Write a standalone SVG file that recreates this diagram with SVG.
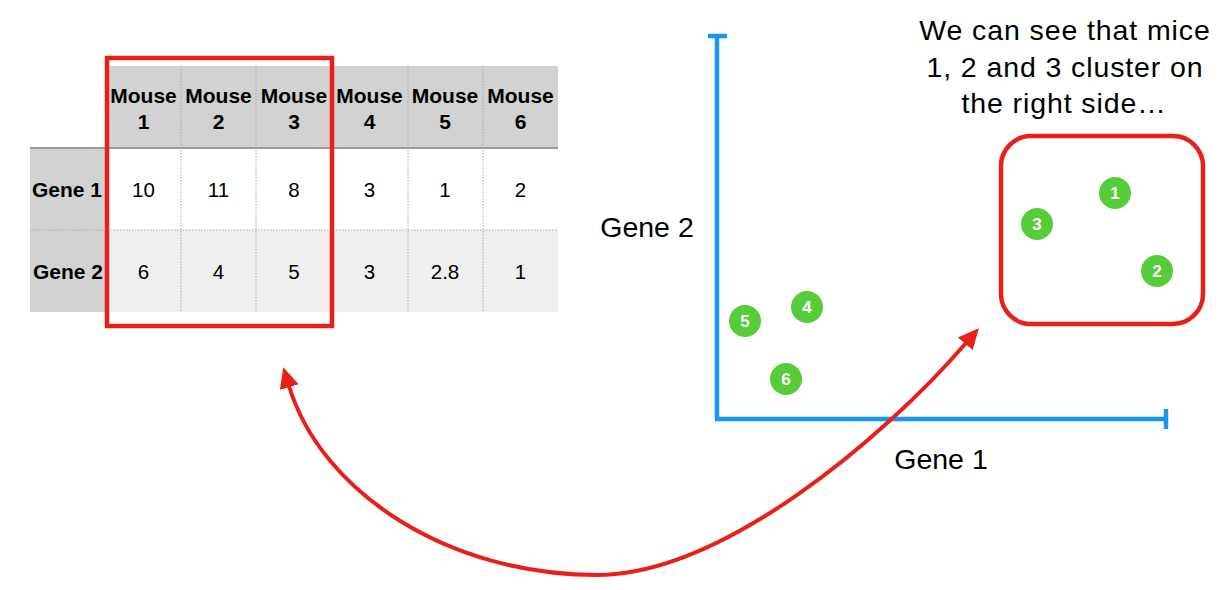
<svg xmlns="http://www.w3.org/2000/svg" width="1226" height="590" viewBox="0 0 1226 590">
<style>
.hd{font-family:"Liberation Sans",Arial,sans-serif;font-weight:bold;font-size:21px;fill:#000;text-anchor:middle}
.num{font-family:"Liberation Sans",Arial,sans-serif;font-size:20.5px;fill:#000;text-anchor:middle}
.lbl{font-family:"Liberation Sans",Arial,sans-serif;font-size:28.5px;fill:#000;text-anchor:middle}
.cap{font-family:"Liberation Sans",Arial,sans-serif;font-size:28.5px;fill:#000;text-anchor:middle;letter-spacing:0.9px}
.dot{stroke:#a8a8a8;stroke-width:1;stroke-dasharray:1.5 1.5;fill:none}
.pt{fill:#57cc39}
.ptn{font-family:"Liberation Sans",Arial,sans-serif;font-weight:bold;font-size:17px;fill:#fff;text-anchor:middle}
.ax{stroke:#1a95f5;stroke-width:4.5;fill:none}
.red{stroke:#e8201a;stroke-width:4.5;fill:none}
.crv{stroke:#e8201a;stroke-width:4;fill:none}
</style>
<defs>
<marker id="ah" markerUnits="userSpaceOnUse" markerWidth="24" markerHeight="24" viewBox="0 -10 22 20" refX="1" refY="0" orient="auto-start-reverse">
<path d="M0,-9 L19,0 L0,9 z" fill="#e8201a"/>
</marker>
</defs>
<rect width="1226" height="590" fill="#fff"/>
<g id="table">
<rect x="106" y="66" width="452" height="82" fill="#d2d2d2"/>
<rect x="30" y="148" width="76" height="164" fill="#d2d2d2"/>
<rect x="106" y="148" width="452" height="82" fill="#ffffff"/>
<rect x="106" y="230" width="452" height="82" fill="#efefef"/>
<line class="dot" x1="30" y1="230" x2="558" y2="230"/>
<line class="dot" x1="181" y1="66" x2="181" y2="312"/>
<line class="dot" x1="256" y1="66" x2="256" y2="312"/>
<line class="dot" x1="332" y1="66" x2="332" y2="312"/>
<line class="dot" x1="408" y1="66" x2="408" y2="312"/>
<line class="dot" x1="483" y1="66" x2="483" y2="312"/>
<line x1="30" y1="148" x2="558" y2="148" stroke="#9a9a9a" stroke-width="2"/>
<text class="hd" x="143.5" y="103">Mouse</text><text class="hd" x="143.5" y="129">1</text>
<text class="hd" x="218.5" y="103">Mouse</text><text class="hd" x="218.5" y="129">2</text>
<text class="hd" x="294" y="103">Mouse</text><text class="hd" x="294" y="129">3</text>
<text class="hd" x="369.5" y="103">Mouse</text><text class="hd" x="369.5" y="129">4</text>
<text class="hd" x="445" y="103">Mouse</text><text class="hd" x="445" y="129">5</text>
<text class="hd" x="520.5" y="103">Mouse</text><text class="hd" x="520.5" y="129">6</text>
<text class="hd" x="67" y="197">Gene 1</text>
<text class="hd" x="68" y="279">Gene 2</text>
<text class="num" x="143.5" y="197">10</text>
<text class="num" x="218.5" y="197">11</text>
<text class="num" x="294" y="197">8</text>
<text class="num" x="369.5" y="197">3</text>
<text class="num" x="445" y="197">1</text>
<text class="num" x="520.5" y="197">2</text>
<text class="num" x="143.5" y="279">6</text>
<text class="num" x="218.5" y="279">4</text>
<text class="num" x="294" y="279">5</text>
<text class="num" x="369.5" y="279">3</text>
<text class="num" x="445" y="279">2.8</text>
<text class="num" x="520.5" y="279">1</text>
</g>
<g id="table-highlight">
<rect class="red" x="107" y="58" width="225" height="268"/>
</g>
<g id="axes">
<line class="ax" x1="717" y1="34" x2="717" y2="419"/>
<line class="ax" x1="708" y1="36" x2="727" y2="36"/>
<line class="ax" x1="715" y1="419" x2="1166" y2="419"/>
<line class="ax" x1="1166" y1="409" x2="1166" y2="429"/>
<text class="lbl" x="647" y="237">Gene 2</text>
<text class="lbl" x="941" y="469">Gene 1</text>
</g>
<g id="caption">
<text class="cap" x="1065" y="40">We can see that mice</text>
<text class="cap" x="1065" y="77">1, 2 and 3 cluster on</text>
<text class="cap" x="1064" y="113">the right side…</text>
</g>
<g id="cluster">
<rect class="red" x="1001" y="136" width="202" height="188" rx="30" ry="30"/>
</g>
<g id="mouse1"><circle class="pt" cx="1115" cy="193" r="16"/><text class="ptn" x="1115" y="199">1</text></g>
<g id="mouse2"><circle class="pt" cx="1157" cy="271" r="16"/><text class="ptn" x="1157" y="277">2</text></g>
<g id="mouse3"><circle class="pt" cx="1037" cy="224" r="16"/><text class="ptn" x="1037" y="230">3</text></g>
<g id="mouse4"><circle class="pt" cx="807" cy="307" r="16"/><text class="ptn" x="807" y="313">4</text></g>
<g id="mouse5"><circle class="pt" cx="745" cy="321" r="16"/><text class="ptn" x="745" y="327">5</text></g>
<g id="mouse6"><circle class="pt" cx="786" cy="379" r="16"/><text class="ptn" x="786" y="385">6</text></g>
<g id="connectors">
<path class="crv" d="M289,386 C322,494 450,575 597,575 C722,575 884,438 966,343" marker-start="url(#ah)" marker-end="url(#ah)"/>
</g>
</svg>
